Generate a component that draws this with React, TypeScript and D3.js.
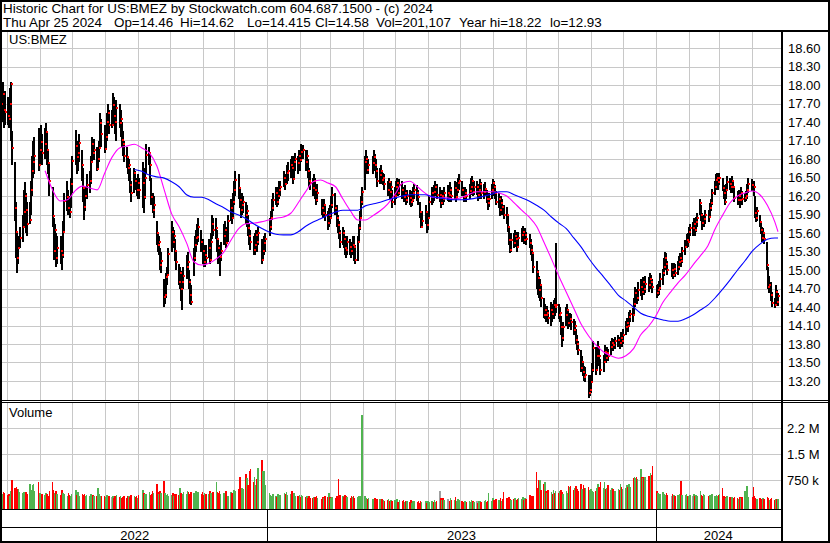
import React from "react";
import * as d3 from "d3";

const START = "2022-04-25";
const END = "2024-04-25";
const HOLIDAYS = [
  "2022-05-30", "2022-06-20", "2022-07-04", "2022-09-05", "2022-11-24", "2022-12-26",
  "2023-01-02", "2023-01-16", "2023-02-20", "2023-04-07", "2023-05-29", "2023-06-19",
  "2023-07-04", "2023-09-04", "2023-11-23", "2023-12-25",
  "2024-01-01", "2024-01-15", "2024-02-19", "2024-03-29",
];

// daily closes, one row per week
const closes = [
  17.80, 17.69, 17.85, 17.60, 17.56,
  17.50, 17.45, 17.70, 18.02, 16.98,
  16.00, 15.62, 15.19, 15.35, 15.52,
  15.70, 15.94, 16.20, 15.97, 15.75,
  15.81, 16.30, 16.60, 16.75, 16.85,
  16.70, 16.95, 17.08, 16.90,
  17.05, 17.24, 16.95, 16.73, 16.45,
  15.88, 15.30, 15.65, 15.19, 15.35,
  15.30, 15.25, 15.62, 16.12,
  16.18, 16.00, 15.94, 16.40, 16.77,
  17.01, 16.83, 16.90, 17.06,
  16.70, 16.33, 16.02, 16.20, 16.38,
  16.45, 16.75, 17.04, 16.90, 16.95,
  16.64, 16.80, 16.98, 17.38, 17.20,
  16.96, 17.15, 17.40, 17.55, 17.35,
  17.35, 17.68, 17.50, 17.40, 17.63,
  17.38, 17.45, 17.11, 17.05, 16.85,
  16.83, 16.65, 16.70, 16.38, 16.25,
  16.57, 16.45, 16.30, 16.41, 16.30,
  16.41, 16.18, 16.50, 16.87,
  16.90, 16.70, 16.18, 15.97, 16.05,
  15.60, 15.41, 15.45, 15.08, 15.15,
  14.56, 14.59, 14.89, 14.92, 15.26,
  15.62, 15.45, 15.55, 15.30, 15.13,
  14.81, 14.95, 14.70, 14.81, 14.90,
  15.05, 15.13, 14.81, 14.60, 14.48,
  15.19, 15.40, 15.52, 15.54, 15.70,
  15.45, 15.30, 15.13, 15.25, 15.20,
  15.36, 15.16, 15.45, 15.75, 15.65,
  15.68, 15.50, 15.35, 15.21, 15.30,
  15.55, 15.65, 15.44, 15.80,
  16.01, 15.84, 16.10, 16.30, 16.46,
  16.33, 16.14, 15.97, 16.06, 16.10,
  15.89, 15.95, 15.68, 15.55, 15.45,
  15.32, 15.40, 15.57, 15.45, 15.60,
  15.16, 15.30, 15.44, 15.50,
  15.70, 15.85, 16.01, 16.14,
  16.25, 16.10, 16.20, 16.30, 16.35,
  16.49, 16.40, 16.57, 16.60,
  16.70, 16.65, 16.48, 16.75, 16.80,
  16.73, 16.85, 16.78, 16.91, 16.95,
  16.75, 16.85, 16.60, 16.45, 16.41,
  16.33, 16.45, 16.30, 16.14, 16.25,
  16.01, 15.92, 16.05, 15.89,
  15.76, 15.90, 15.85, 16.05, 16.22,
  16.00, 15.85, 15.73, 15.60, 15.45,
  15.60, 15.50, 15.35, 15.32, 15.45,
  15.37, 15.30, 15.40, 15.37, 15.16,
  15.45, 15.68, 15.85, 16.10, 16.27,
  16.75, 16.80, 16.62, 16.70,
  16.73, 16.83, 16.70, 16.60, 16.45,
  16.54, 16.60, 16.46, 16.50, 16.40,
  16.30, 16.43, 16.27, 16.35, 16.10,
  16.20, 16.35, 16.41, 16.25, 16.38,
  16.30, 16.18, 16.25, 16.14, 16.20,
  16.17, 16.10, 16.14, 16.25, 16.30,
  16.25, 16.18, 15.94, 15.70, 15.80,
  15.94, 15.73, 15.85, 16.10,
  16.25, 16.18, 16.27, 16.35, 16.22,
  16.22, 16.09, 16.20, 16.15, 16.25,
  16.25, 16.22, 16.30, 16.20,
  16.33, 16.18, 16.30, 16.41, 16.45,
  16.30, 16.18, 16.25, 16.20,
  16.28, 16.35, 16.45, 16.27, 16.35,
  16.35, 16.22, 16.30, 16.40, 16.25,
  16.27, 16.32, 16.15, 16.09, 16.15,
  16.30, 16.41, 16.35, 16.25, 16.10,
  16.15, 15.97, 16.09, 16.02, 15.90,
  15.89, 15.70, 15.49, 15.32, 15.49,
  15.44, 15.55, 15.50, 15.38, 15.52,
  15.57, 15.62, 15.48, 15.57, 15.50,
  15.44, 15.32, 15.28, 15.05,
  14.97, 14.87, 14.68, 14.75, 14.55,
  14.27, 14.35, 14.27, 14.30, 14.22,
  14.35, 14.28, 14.43, 14.40, 14.43,
  14.27, 14.30, 14.08, 13.90, 14.08,
  14.27, 14.35, 14.14, 14.20, 14.16,
  14.03, 14.10, 13.87, 13.80, 13.70,
  13.41, 13.50, 13.35, 13.27, 13.30,
  13.01, 13.05, 13.18, 13.38, 13.74,
  13.38, 13.60, 13.75, 13.60, 13.38,
  13.51, 13.67, 13.57, 13.65, 13.60,
  13.75, 13.82, 13.78, 13.85,
  13.87, 13.82, 13.90, 13.85, 13.95,
  14.08, 14.14, 14.10, 14.24, 14.28,
  14.27, 14.45, 14.63, 14.55, 14.68,
  14.72, 14.64, 14.80, 14.70, 14.78,
  14.76, 14.85, 14.80, 14.72,
  14.63, 14.68, 14.71, 14.85,
  14.95, 15.05, 15.19, 15.10, 15.00,
  15.00, 14.92, 15.02, 14.95,
  15.05, 15.13, 15.20, 15.15, 15.30,
  15.37, 15.49, 15.45, 15.62, 15.68,
  15.68, 15.75, 15.65, 15.78, 15.85,
  16.09, 15.90, 15.76, 15.82, 15.90,
  15.86, 16.01, 16.09, 16.25,
  16.35, 16.46, 16.49, 16.42, 16.49,
  16.33, 16.25, 16.10, 16.30, 16.43,
  16.40, 16.35, 16.45, 16.35, 16.17,
  16.14, 16.20, 16.14, 16.25, 16.15,
  16.17, 16.20, 16.30, 16.40,
  16.38, 16.35, 15.92, 15.85, 15.95,
  15.78, 15.65, 15.52, 15.60, 15.50,
  15.08, 14.73, 14.75, 14.59, 14.46,
  14.43, 14.65, 14.48, 14.58,
];

const highs = [
  18.10, 18.21, 18.05, 17.85, 17.90,
  17.80, 17.75, 17.95, 18.05, 17.25,
  16.75, 16.10, 15.60, 15.55, 15.70,
  15.90, 16.30, 16.43, 16.25, 16.10,
  16.10, 16.45, 16.85, 17.10, 17.15,
  17.30, 17.25, 17.35, 17.20,
  17.30, 17.38, 17.25, 16.95, 16.75,
  16.35, 15.85, 15.75, 15.60, 15.55,
  15.55, 15.45, 15.80, 16.25,
  16.45, 16.30, 16.20, 16.50, 16.85,
  17.27, 17.10, 17.05, 17.20,
  16.95, 16.65, 16.30, 16.35, 16.55,
  16.60, 16.85, 17.15, 17.10, 17.12,
  17.00, 16.95, 17.10, 17.55, 17.45,
  17.35, 17.30, 17.55, 17.70, 17.60,
  17.60, 17.87, 17.80, 17.65, 17.75,
  17.70, 17.60, 17.40, 17.25, 17.10,
  17.00, 16.85, 16.80, 16.65, 16.45,
  16.65, 16.60, 16.50, 16.55, 16.50,
  16.75, 16.40, 16.65, 17.05,
  17.00, 16.90, 16.50, 16.25, 16.20,
  15.80, 15.60, 15.55, 15.35, 15.30,
  14.85, 14.75, 14.95, 15.05, 15.35,
  15.80, 15.70, 15.65, 15.50, 15.30,
  15.10, 15.05, 14.95, 14.99, 15.05,
  15.25, 15.30, 15.00, 14.85, 14.75,
  15.35, 15.55, 15.65, 15.75, 15.85,
  15.65, 15.50, 15.40, 15.35, 15.40,
  15.50, 15.40, 15.60, 15.89, 15.85,
  15.85, 15.65, 15.50, 15.40, 15.45,
  15.75, 15.80, 15.70, 15.90,
  16.15, 16.05, 16.25, 16.45, 16.60,
  16.55, 16.35, 16.20, 16.25, 16.20,
  16.10, 16.05, 15.90, 15.75, 15.65,
  15.55, 15.60, 15.65, 15.62, 15.70,
  15.50, 15.45, 15.55, 15.60,
  15.85, 15.95, 16.15, 16.25,
  16.35, 16.30, 16.35, 16.45, 16.45,
  16.60, 16.55, 16.70, 16.75,
  16.80, 16.85, 16.70, 16.85, 16.90,
  16.85, 16.95, 16.90, 17.04, 17.02,
  16.95, 16.95, 16.80, 16.65, 16.60,
  16.50, 16.55, 16.50, 16.35, 16.40,
  16.15, 16.10, 16.15, 16.05,
  15.95, 16.00, 16.05, 16.20, 16.35,
  16.25, 16.05, 15.90, 15.80, 15.65,
  15.70, 15.65, 15.55, 15.50, 15.55,
  15.50, 15.45, 15.55, 15.55, 15.40,
  15.55, 15.75, 15.95, 16.20, 16.35,
  16.85, 16.95, 16.85, 16.80,
  16.85, 16.95, 16.88, 16.80, 16.65,
  16.65, 16.70, 16.60, 16.58, 16.55,
  16.45, 16.50, 16.45, 16.45, 16.30,
  16.35, 16.45, 16.50, 16.45, 16.48,
  16.45, 16.35, 16.38, 16.30, 16.30,
  16.30, 16.25, 16.28, 16.35, 16.40,
  16.38, 16.30, 16.10, 15.95, 15.95,
  16.05, 15.95, 15.95, 16.20,
  16.35, 16.30, 16.38, 16.45, 16.40,
  16.35, 16.25, 16.30, 16.28, 16.35,
  16.38, 16.35, 16.42, 16.35,
  16.45, 16.35, 16.42, 16.50, 16.55,
  16.45, 16.35, 16.35, 16.32,
  16.40, 16.50, 16.52, 16.45, 16.45,
  16.45, 16.38, 16.40, 16.48, 16.42,
  16.40, 16.42, 16.30, 16.22, 16.25,
  16.40, 16.48, 16.45, 16.38, 16.28,
  16.25, 16.15, 16.20, 16.15, 16.05,
  16.02, 15.90, 15.70, 15.55, 15.60,
  15.60, 15.65, 15.62, 15.55, 15.62,
  15.68, 15.72, 15.65, 15.68, 15.62,
  15.58, 15.50, 15.40, 15.30,
  15.15, 15.00, 14.90, 14.85, 14.75,
  14.55, 14.45, 14.40, 14.42, 14.35,
  14.48, 14.45, 14.52, 14.55, 15.44,
  14.45, 14.40, 14.25, 14.10, 14.15,
  14.40, 14.45, 14.35, 14.30, 14.28,
  14.20, 14.18, 14.05, 13.95, 13.85,
  13.70, 13.60, 13.52, 13.45, 13.42,
  13.30, 13.25, 13.30, 13.50, 13.85,
  13.75, 13.72, 13.85, 13.75, 13.55,
  13.62, 13.78, 13.72, 13.75, 13.72,
  13.85, 13.90, 13.88, 13.92,
  13.95, 13.92, 14.00, 13.95, 14.05,
  14.18, 14.22, 14.20, 14.32, 14.35,
  14.38, 14.55, 14.72, 14.70, 14.80,
  14.85, 14.78, 14.88, 14.85, 14.90,
  14.88, 14.95, 14.92, 14.85,
  14.75, 14.78, 14.82, 14.95,
  15.02, 15.20, 15.30, 15.28, 15.15,
  15.12, 15.05, 15.12, 15.10,
  15.15, 15.22, 15.28, 15.25, 15.38,
  15.48, 15.58, 15.60, 15.70, 15.75,
  15.78, 15.84, 15.80, 15.86, 15.92,
  16.15, 16.05, 15.92, 15.90, 15.98,
  15.98, 16.08, 16.15, 16.32,
  16.45, 16.55, 16.57, 16.55, 16.58,
  16.50, 16.38, 16.25, 16.40, 16.52,
  16.50, 16.48, 16.52, 16.45, 16.35,
  16.28, 16.30, 16.25, 16.35, 16.28,
  16.25, 16.28, 16.40, 16.50,
  16.48, 16.45, 16.20, 16.00, 16.02,
  15.90, 15.80, 15.70, 15.68, 15.60,
  15.45, 15.05, 14.90, 14.80, 14.65,
  14.55, 14.75, 14.68, 14.62,
];

const lows = [
  17.50, 17.25, 17.40, 17.30, 17.35,
  17.35, 17.30, 17.40, 17.10, 16.70,
  15.80, 15.20, 14.95, 15.10, 15.35,
  15.45, 15.70, 15.85, 15.60, 15.55,
  15.75, 15.90, 16.20, 16.50, 16.55,
  16.60, 16.70, 16.85, 16.70,
  16.80, 17.00, 16.70, 16.55, 16.20,
  15.70, 15.16, 15.20, 15.05, 15.10,
  15.10, 15.00, 15.20, 15.60,
  15.95, 15.90, 15.85, 16.00, 16.25,
  16.70, 16.55, 16.60, 16.75,
  16.45, 16.10, 15.81, 15.95, 16.15,
  16.25, 16.40, 16.75, 16.80, 16.78,
  16.60, 16.62, 16.75, 17.00, 17.00,
  16.90, 16.95, 17.10, 17.25, 17.20,
  17.30, 17.40, 17.35, 17.20, 17.10,
  17.30, 17.15, 17.00, 16.85, 16.75,
  16.65, 16.55, 16.45, 16.25, 16.10,
  16.25, 16.30, 16.20, 16.15, 16.15,
  16.00, 15.93, 16.15, 16.55,
  16.70, 16.45, 16.05, 15.93, 15.85,
  15.40, 15.30, 15.25, 15.00, 14.95,
  14.40, 14.45, 14.55, 14.75, 14.90,
  15.30, 15.35, 15.35, 15.15, 15.00,
  14.75, 14.70, 14.50, 14.35, 14.70,
  14.85, 14.95, 14.70, 14.45, 14.43,
  14.90, 15.15, 15.30, 15.40, 15.45,
  15.30, 15.10, 15.05, 15.05, 15.10,
  15.20, 15.10, 15.15, 15.50, 15.55,
  15.50, 15.30, 15.10, 14.90, 15.15,
  15.40, 15.45, 15.35, 15.45,
  15.80, 15.75, 15.85, 16.05, 16.20,
  16.15, 16.00, 15.85, 15.90, 15.92,
  15.75, 15.70, 15.55, 15.40, 15.32,
  15.25, 15.25, 15.35, 15.30, 15.40,
  15.10, 15.15, 15.25, 15.30,
  15.55, 15.65, 15.81, 15.95,
  16.05, 16.02, 16.05, 16.15, 16.20,
  16.35, 16.30, 16.40, 16.45,
  16.50, 16.55, 16.40, 16.50, 16.60,
  16.55, 16.65, 16.60, 16.75, 16.80,
  16.60, 16.65, 16.50, 16.35, 16.30,
  16.20, 16.25, 16.15, 16.05, 16.10,
  15.90, 15.85, 15.90, 15.80,
  15.65, 15.70, 15.75, 15.85, 16.00,
  15.90, 15.70, 15.60, 15.50, 15.35,
  15.40, 15.35, 15.25, 15.20, 15.25,
  15.25, 15.20, 15.25, 15.15, 15.10,
  15.15, 15.45, 15.65, 15.85, 16.05,
  16.30, 16.60, 16.55, 16.55,
  16.55, 16.65, 16.60, 16.50, 16.35,
  16.40, 16.45, 16.40, 16.38, 16.30,
  16.20, 16.25, 16.15, 16.20, 16.00,
  16.05, 16.15, 16.25, 16.20, 16.22,
  16.15, 16.10, 16.12, 16.05, 16.08,
  16.05, 16.02, 16.03, 16.10, 16.15,
  16.12, 16.05, 15.85, 15.68, 15.70,
  15.75, 15.60, 15.65, 15.85,
  16.05, 16.08, 16.12, 16.20, 16.15,
  16.10, 16.00, 16.05, 16.05, 16.10,
  16.12, 16.10, 16.15, 16.10,
  16.15, 16.10, 16.15, 16.25, 16.30,
  16.20, 16.10, 16.12, 16.10,
  16.15, 16.22, 16.30, 16.20, 16.22,
  16.22, 16.12, 16.15, 16.25, 16.15,
  16.15, 16.20, 16.08, 15.98, 16.02,
  16.15, 16.25, 16.20, 16.15, 16.05,
  16.00, 15.88, 15.95, 15.90, 15.82,
  15.75, 15.62, 15.40, 15.28, 15.30,
  15.35, 15.40, 15.38, 15.30, 15.35,
  15.45, 15.50, 15.42, 15.45, 15.40,
  15.35, 15.25, 15.15, 14.95,
  14.70, 14.60, 14.55, 14.50, 14.40,
  14.22, 14.20, 14.15, 14.18, 14.12,
  14.10, 14.15, 14.20, 14.25, 14.30,
  14.20, 14.15, 13.95, 13.75, 13.85,
  14.10, 14.20, 14.05, 14.08, 14.02,
  13.95, 13.95, 13.80, 13.70, 13.62,
  13.35, 13.35, 13.28, 13.20, 13.18,
  12.93, 12.95, 13.00, 13.20, 13.35,
  13.30, 13.40, 13.55, 13.45, 13.30,
  13.35, 13.50, 13.50, 13.52, 13.52,
  13.62, 13.70, 13.68, 13.72,
  13.75, 13.72, 13.78, 13.75, 13.80,
  13.95, 14.02, 14.00, 14.10, 14.15,
  14.15, 14.25, 14.40, 14.45, 14.50,
  14.58, 14.52, 14.62, 14.60, 14.62,
  14.65, 14.72, 14.70, 14.62,
  14.55, 14.58, 14.60, 14.68,
  14.75, 14.90, 15.00, 15.02, 14.92,
  14.88, 14.85, 14.90, 14.88,
  14.92, 15.00, 15.08, 15.05, 15.12,
  15.25, 15.35, 15.38, 15.45, 15.55,
  15.55, 15.62, 15.55, 15.62, 15.70,
  15.90, 15.80, 15.65, 15.70, 15.75,
  15.78, 15.85, 15.95, 16.05,
  16.22, 16.30, 16.35, 16.30, 16.38,
  16.28, 16.15, 16.05, 16.15, 16.30,
  16.30, 16.25, 16.30, 16.25, 16.10,
  16.05, 16.08, 16.00, 16.10, 16.05,
  16.10, 16.12, 16.15, 16.25,
  16.28, 16.20, 15.85, 15.78, 15.80,
  15.70, 15.58, 15.45, 15.45, 15.42,
  15.00, 14.70, 14.62, 14.50, 14.40,
  14.38, 14.42, 14.45, 14.415,
];

// daily volume, thousands of shares
const volumes = [
  380, 420, 350, 400, 370,
  330, 360, 300, 420, 750,
  520, 540, 500, 480, 410,
  380, 410, 350, 390, 360,
  630, 450, 600, 640, 420,
  690, 380, 340, 360,
  320, 380, 340, 300, 420,
  690, 460, 380, 420, 350,
  330, 460, 380, 350,
  300, 380, 330, 280, 360,
  470, 330, 410, 300,
  360, 310, 350, 280, 330,
  300, 360, 290, 330, 280,
  300, 510, 340, 300, 280,
  280, 250, 310, 270, 300,
  260, 300, 240, 280, 330,
  250, 290, 230, 270, 300,
  240, 280, 300, 260, 330,
  300, 260, 280, 240, 310,
  470, 380, 340, 360,
  400, 330, 360, 420, 380,
  630, 400, 350, 420, 380,
  720, 380, 330, 350, 300,
  320, 380, 300, 340, 360,
  330, 520, 380, 340, 400,
  360, 420, 390, 350, 410,
  380, 340, 420, 360, 390,
  350, 400, 330, 380, 360,
  340, 420, 370, 350, 400,
  690, 400, 380, 420, 360,
  380, 350, 420, 300,
  410, 380, 450, 470, 420,
  480, 840, 450, 520, 480,
  920, 800, 620, 1000, 1070,
  700, 830, 600, 780, 1100,
  1330, 1000, 1010, 620,
  380, 320, 280, 350,
  300, 260, 340, 290, 310,
  380, 350, 410, 330,
  360, 420, 330, 380, 300,
  280, 320, 250, 330, 300,
  260, 300, 230, 280, 240,
  220, 270, 250, 300, 230,
  210, 260, 240, 280,
  250, 380, 270, 230, 260,
  240, 280, 300, 780, 330,
  300, 260, 310, 280, 250,
  240, 280, 260, 300, 230,
  250, 280, 240, 300, 2620,
  280, 240, 200, 230,
  210, 180, 220, 160, 200,
  190, 150, 210, 170, 140,
  160, 200, 130, 180, 150,
  170, 140, 190, 120, 160,
  130, 170, 110, 150, 140,
  120, 160, 100, 140, 130,
  110, 150, 90, 130, 120,
  140, 100, 130, 110,
  150, 120, 170, 110, 140,
  430, 220, 180, 240, 160,
  200, 150, 230, 180,
  170, 250, 140, 190, 160,
  130, 110, 140, 120,
  150, 120, 160, 130, 110,
  140, 100, 130, 150, 120,
  130, 160, 120, 140, 370,
  150, 220, 180, 140, 200,
  170, 240, 150, 190, 400,
  220, 180, 250, 200, 160,
  190, 230, 170, 210, 240,
  200, 260, 180, 230, 210,
  310, 250, 280, 300,
  980, 520, 750, 760, 460,
  640, 690, 420, 380, 450,
  400, 350, 460, 380, 430,
  380, 420, 460, 400, 360,
  420, 380, 580, 540, 590,
  460, 520, 580, 500, 430,
  630, 480, 600, 520, 510,
  540, 470, 500, 420, 400,
  430, 520, 630, 560, 690,
  520, 690, 480, 510, 600,
  450, 520, 480, 430,
  500, 460, 630, 540, 480,
  520, 600, 560, 630, 540,
  820, 850, 800, 830, 780,
  1070, 850, 800, 840, 830,
  870, 950, 900, 1150,
  420, 370, 330, 360,
  400, 340, 310, 380, 320,
  300, 360, 330, 280,
  320, 290, 350, 720, 330,
  310, 340, 300, 280, 330,
  300, 350, 280, 320, 290,
  430, 330, 300, 350, 320,
  290, 330, 310, 350,
  300, 330, 280, 310, 350,
  520, 300, 260, 240, 280,
  250, 220, 270, 230, 260,
  240, 210, 260, 220, 250,
  430, 300, 580, 260,
  250, 540, 300, 230, 210,
  220, 180, 200, 240, 190,
  250, 220, 180, 200, 230,
  170, 210, 190, 201,
];

// pink moving average, read weekly (Mondays) from week 6
const maFastStartWeek = 6;
const maFast = [
  16.61, 16.30, 16.12, 16.14, 16.28, 16.36, 16.33, 16.30, 16.57, 16.83,
  16.98, 17.01, 17.04, 16.98, 16.90, 16.69, 16.30, 15.91, 15.70, 15.44,
  15.13, 15.08, 15.11, 15.18, 15.29, 15.49, 15.67, 15.75, 15.76, 15.78,
  15.81, 15.84, 15.86, 15.92, 16.09, 16.27, 16.43, 16.46, 16.41, 16.35,
  16.15, 15.96, 15.81, 15.81, 15.88, 15.96, 16.07, 16.23, 16.41, 16.44,
  16.35, 16.25, 16.18, 16.17, 16.17, 16.15, 16.18, 16.23, 16.27, 16.27,
  16.27, 16.25, 16.20, 16.09, 15.97, 15.86, 15.71, 15.45, 15.18, 14.90,
  14.64, 14.38, 14.12, 13.93, 13.78, 13.67, 13.61, 13.57, 13.61, 13.72,
  13.95, 14.08, 14.25, 14.48, 14.64, 14.79, 14.92, 15.08, 15.23, 15.39,
  15.67, 15.89, 16.09, 16.20, 16.25, 16.28, 16.22, 16.05, 15.78,
];
const maFastLast = 15.62;

// blue moving average, read weekly (Mondays) from week 18
const maSlowStartWeek = 18;
const maSlow = [
  16.63, 16.60, 16.54, 16.51, 16.49, 16.43, 16.35, 16.22, 16.18, 16.18,
  16.14, 16.07, 16.01, 15.94, 15.89, 15.83, 15.75, 15.68, 15.62, 15.58,
  15.57, 15.57, 15.62, 15.71, 15.78, 15.83, 15.89, 15.94, 15.97, 15.97,
  15.97, 16.04, 16.07, 16.10, 16.14, 16.17, 16.20, 16.22, 16.22, 16.22,
  16.19, 16.17, 16.15, 16.14, 16.14, 16.15, 16.17, 16.20, 16.23, 16.27,
  16.27, 16.22, 16.17, 16.12, 16.05, 15.97, 15.86, 15.76, 15.67, 15.52,
  15.37, 15.19, 15.03, 14.89, 14.74, 14.59, 14.50, 14.40, 14.30, 14.25,
  14.22, 14.19, 14.17, 14.17, 14.21, 14.27, 14.35, 14.43, 14.55, 14.69,
  14.84, 15.00, 15.15, 15.31, 15.42, 15.50, 15.52,
];
const maSlowLast = 15.52;

const priceTicks = [18.6, 18.3, 18.0, 17.7, 17.4, 17.1, 16.8, 16.5, 16.2, 15.9, 15.6, 15.3, 15.0, 14.7, 14.4, 14.1, 13.8, 13.5, 13.2];
const volTicks = [750, 1500, 2250];
const volTickLabels = ["750 k", "1.5 M", "2.2 M"];
const yearStarts = ["2022-04-25", "2023-01-01", "2024-01-01"];
const yearLabels = ["2022", "2023", "2024"];

const title = "Historic Chart for US:BMEZ by Stockwatch.com 604.687.1500 - (c) 2024";
const quoteParts = ["Thu Apr 25 2024", "Op=14.46", "Hi=14.62", "Lo=14.415", "Cl=14.58", "Vol=201,107", "Year hi=18.22", "lo=12.93"];
const quoteX = [3, 114, 180, 247, 315, 376, 459, 550];
const symbol = "US:BMEZ";

const FONT = "'Liberation Sans', Arial, Helvetica, sans-serif";
const GRID = "#c8c8c8";
const GREEN = "#50b450";

export default function App() {
  const parse = d3.utcParse("%Y-%m-%d");
  const fmt = d3.utcFormat("%Y-%m-%d");
  const t0 = parse(START) as Date;
  const t1 = parse(END) as Date;
  const hol = new Set(HOLIDAYS);
  const days = d3.utcDay
    .range(t0, d3.utcDay.offset(t1, 1))
    .filter((d) => {
      const w = d.getUTCDay();
      return w !== 0 && w !== 6 && !hol.has(fmt(d));
    });
  const n = Math.min(days.length, closes.length, highs.length, lows.length, volumes.length);

  const L = 2, R = 781;
  const PT = 32, PB = 400;
  const VT = 403, VB = 509;

  const x = d3.scaleUtc().domain([t0, t1]).range([0.4, 778]);
  const yP = d3.scaleLinear().domain([13.2, 18.6]).range([381, 48]);
  const yV = d3.scaleLinear().domain([0, 2250]).range([506, 428]);

  const months = d3.utcMonth.range(d3.utcDay.offset(t0, 1), t1);
  const yearDates = yearStarts.map((s) => parse(s) as Date);
  const yearBounds = yearDates.map((d, i) => {
    const a = i === 0 ? L : x(d);
    const b = i < yearDates.length - 1 ? x(yearDates[i + 1]) : R;
    return [a, b];
  });

  const weekDate = (k: number) => d3.utcDay.offset(t0, 7 * k);
  const fastPts: [Date, number][] = maFast.map((v, i) => [weekDate(maFastStartWeek + i), v] as [Date, number]);
  fastPts.push([t1, maFastLast]);
  const slowPts: [Date, number][] = maSlow.map((v, i) => [weekDate(maSlowStartWeek + i), v] as [Date, number]);
  slowPts.push([t1, maSlowLast]);
  const line = d3
    .line<[Date, number]>()
    .x((d) => x(d[0]))
    .y((d) => yP(d[1]))
    .curve(d3.curveMonotoneX);

  const bars = d3.range(n).map((i) => ({
    d: days[i],
    c: closes[i],
    h: highs[i],
    l: lows[i],
    v: volumes[i],
    dir: i === 0 ? 1 : Math.sign(closes[i] - closes[i - 1]),
  }));

  return (
    <svg
      width={830}
      height={543}
      style={{ position: "absolute", left: 0, top: 0, background: "#fff" }}
      fontFamily={FONT}
    >
      <defs>
        <clipPath id="pclip">
          <rect x={L} y={PT} width={R - L} height={PB - PT} />
        </clipPath>
        <clipPath id="vclip">
          <rect x={L} y={VT} width={R - L} height={VB - VT} />
        </clipPath>
      </defs>
      <rect x={0} y={0} width={830} height={543} fill="#fff" />

      {/* header */}
      <text x={3} y={12.7} fontSize={13.4} fill="#000" textLength={430} lengthAdjust="spacingAndGlyphs">{title}</text>
      {quoteParts.map((s, i) => (
        <text key={i} x={quoteX[i]} y={26.7} fontSize={13.4} fill="#000">{s}</text>
      ))}

      {/* grid */}
      <g shapeRendering="crispEdges" stroke={GRID} strokeWidth={1}>
        {priceTicks.map((t) => (
          <line key={t} x1={L} x2={R} y1={Math.round(yP(t)) + 0.5} y2={Math.round(yP(t)) + 0.5} />
        ))}
        {months.map((m) => (
          <line key={+m} x1={Math.round(x(m)) + 0.5} x2={Math.round(x(m)) + 0.5} y1={PT} y2={PB} />
        ))}
        {volTicks.map((t) => (
          <line key={t} x1={L} x2={R} y1={Math.round(yV(t)) + 0.5} y2={Math.round(yV(t)) + 0.5} />
        ))}
        {months.map((m) => (
          <line key={"v" + +m} x1={Math.round(x(m)) + 0.5} x2={Math.round(x(m)) + 0.5} y1={VT} y2={VB} />
        ))}
      </g>

      <text x={9} y={44.3} fontSize={13} fill="#000">{symbol}</text>
      <text x={9} y={417} fontSize={13} fill="#000">Volume</text>

      {/* price bars */}
      <g clipPath="url(#pclip)">
        <g shapeRendering="crispEdges">
          {bars.map((b, i) => (
            <rect key={i} x={Math.round(x(b.d)) - 1} width={2} y={yP(b.h)} height={Math.max(1, yP(b.l) - yP(b.h))} fill="#000" />
          ))}
          {bars.map((b, i) => (
            <rect key={"c" + i} x={Math.round(x(b.d))} width={2} y={Math.round(yP(b.c)) - 1} height={2} fill="#ff0000" />
          ))}
        </g>
        <path d={line(fastPts) || ""} fill="none" stroke="#ff00ff" strokeWidth={1.1} />
        <path d={line(slowPts) || ""} fill="none" stroke="#0000ff" strokeWidth={1.1} />
      </g>

      {/* volume bars */}
      <g clipPath="url(#vclip)" shapeRendering="crispEdges">
        {bars.map((b, i) => (
          <rect
            key={i}
            x={x(b.d) - 0.8}
            width={1.6}
            y={yV(b.v)}
            height={VB - yV(b.v)}
            fill={b.dir > 0 ? GREEN : b.dir < 0 ? "#ff0000" : "#a0a0a0"}
          />
        ))}
      </g>

      {/* frame lines */}
      <g shapeRendering="crispEdges" stroke="#000" fill="none">
        <rect x={1} y={1} width={828} height={541} strokeWidth={2} />
        <line x1={0} x2={830} y1={30.5} y2={30.5} strokeWidth={2} />
        <line x1={782} x2={782} y1={31} y2={543} strokeWidth={2} />
        <line x1={L} x2={830} y1={400.5} y2={400.5} strokeWidth={1} />
        <line x1={L} x2={830} y1={402.5} y2={402.5} strokeWidth={1} />
        <line x1={L} x2={782} y1={509.5} y2={509.5} strokeWidth={1} />
        <line x1={L} x2={782} y1={527.5} y2={527.5} strokeWidth={1} />
        {yearDates.slice(1).map((d, i) => (
          <line key={i} x1={Math.round(x(d)) + 0.5} x2={Math.round(x(d)) + 0.5} y1={509} y2={542} strokeWidth={1} />
        ))}
      </g>

      {/* axis labels */}
      {priceTicks.map((t) => (
        <text key={t} x={788} y={yP(t)} dy="0.36em" fontSize={13} fill="#000">
          {t.toFixed(2)}
        </text>
      ))}
      {volTicks.map((t, i) => (
        <text key={t} x={787} y={yV(t)} dy="0.36em" fontSize={13} fill="#000">
          {volTickLabels[i]}
        </text>
      ))}
      {yearLabels.map((s, i) => (
        <text key={s} x={(yearBounds[i][0] + yearBounds[i][1]) / 2} y={539.5} fontSize={13} textAnchor="middle" fill="#000">
          {s}
        </text>
      ))}
    </svg>
  );
}
